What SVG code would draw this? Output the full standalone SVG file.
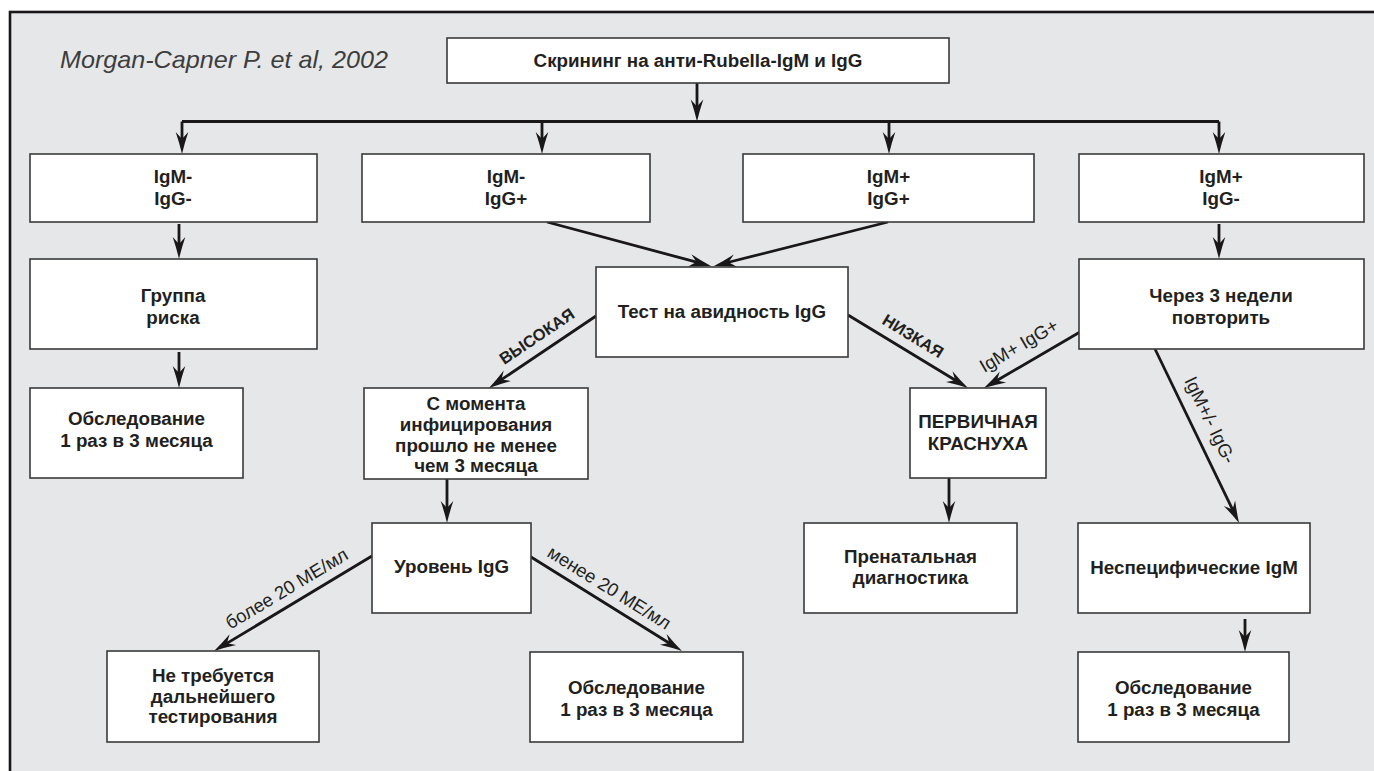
<svg xmlns="http://www.w3.org/2000/svg" width="1374" height="771" viewBox="0 0 1374 771">
<defs>
<marker id="ah" viewBox="-23 -7 23 14" refX="-10" refY="0" markerWidth="23" markerHeight="14" markerUnits="userSpaceOnUse" orient="auto">
<path d="M0,0 Q-11,-2.6 -22,-6.3 L-15,0 L-22,6.3 Q-11,2.6 0,0 Z" fill="#1a1718"/>
</marker>
<style>
.box{fill:#fff;stroke:#3a3a3a;stroke-width:1.6}
.t{font-family:"Liberation Sans",Arial,sans-serif;font-weight:bold;font-size:18.8px;fill:#231f20;text-anchor:middle}
.e{fill:none;stroke:#1a1718;stroke-width:2.8;marker-end:url(#ah)}
.ln{fill:none;stroke:#1a1718;stroke-width:2.8}
.lb{font-family:"Liberation Sans",Arial,sans-serif;font-size:18.5px;fill:#231f20;text-anchor:middle}
.lbb{font-family:"Liberation Sans",Arial,sans-serif;font-weight:bold;font-size:16.5px;fill:#231f20;text-anchor:middle}
</style>
</defs>
<rect x="0" y="0" width="1374" height="771" fill="#ffffff"/>
<rect x="10" y="12" width="1400" height="800" fill="#e6e7e8" stroke="#1a1718" stroke-width="2.6"/>
<text x="60" y="68" font-family="'Liberation Sans',Arial,sans-serif" font-style="italic" font-size="24" fill="#3d3d3d" textLength="328" lengthAdjust="spacingAndGlyphs">Morgan-Capner P. et al, 2002</text>

<g id="connectors">
<path class="e" d="M697,83 V111.5"/>
<path class="ln" d="M182,121.5 H1219"/>
<path class="e" d="M182,121.5 V144"/>
<path class="e" d="M542,121.5 V144"/>
<path class="e" d="M889,121.5 V144"/>
<path class="e" d="M1219,121.5 V144"/>
<path class="e" d="M179,224 V249"/>
<path class="e" d="M179,352 V378"/>
<path class="e" d="M1219,224 V249"/>
<path class="e" d="M447,479 V513"/>
<path class="e" d="M949,478 V513"/>
<path class="e" d="M1245,619 V642"/>
<path class="e" d="M547,222 L701.3,263.4"/>
<path class="e" d="M888,222 L723.7,263.5"/>
<path class="e" d="M596,316 L497.3,382.4"/>
<path class="e" d="M848,315 L959.5,382.8"/>
<path class="e" d="M1080,332 L992.6,383"/>
<path class="e" d="M1155,349 L1234.7,514"/>
<path class="e" d="M372,556 L222.6,645.9"/>
<path class="e" d="M531,557 L673.5,645.7"/>
<text class="lbb" x="540" y="341" transform="rotate(-33.9 540 341)">ВЫСОКАЯ</text>
<text class="lbb" x="910" y="341" transform="rotate(31.3 910 341)">НИЗКАЯ</text>
<text class="lb" x="1022" y="351" transform="rotate(-30.3 1022 351)">IgM+ IgG+</text>
<text class="lb" x="1204.5" y="422.8" transform="rotate(64.2 1204.5 422.8)">IgM+/- IgG-</text>
<text class="lb" x="290" y="594" transform="rotate(-31 290 594)">более 20 МЕ/мл</text>
<text class="lb" x="606" y="593" transform="rotate(31.9 606 593)">менее 20 МЕ/мл</text>
</g>

<g id="n-screening">
<rect class="box" x="447" y="38" width="502" height="45"/>
<text class="t" x="698" y="67">Скрининг на анти-Rubella-IgM и IgG</text>
</g>
<g id="n-igm-neg-igg-neg">
<rect class="box" x="30" y="154" width="287" height="68"/>
<text class="t" x="173" y="183">IgM-</text>
<text class="t" x="173" y="204.5">IgG-</text>
</g>
<g id="n-igm-neg-igg-pos">
<rect class="box" x="362" y="154" width="288" height="68"/>
<text class="t" x="506" y="183">IgM-</text>
<text class="t" x="506" y="204.5">IgG+</text>
</g>
<g id="n-igm-pos-igg-pos">
<rect class="box" x="743" y="154" width="291" height="68"/>
<text class="t" x="888.5" y="183">IgM+</text>
<text class="t" x="888.5" y="204.5">IgG+</text>
</g>
<g id="n-igm-pos-igg-neg">
<rect class="box" x="1079" y="154" width="285" height="68"/>
<text class="t" x="1221" y="183">IgM+</text>
<text class="t" x="1221" y="204.5">IgG-</text>
</g>
<g id="n-risk">
<rect class="box" x="30" y="259" width="287" height="90"/>
<text class="t" x="173" y="302">Группа</text>
<text class="t" x="173" y="323.5">риска</text>
</g>
<g id="n-avidity">
<rect class="box" x="596" y="267" width="252" height="90"/>
<text class="t" x="722" y="317.5">Тест на авидность IgG</text>
</g>
<g id="n-repeat">
<rect class="box" x="1079" y="259" width="285" height="90"/>
<text class="t" x="1221" y="302">Через 3 недели</text>
<text class="t" x="1221" y="323.5">повторить</text>
</g>
<g id="n-exam-1">
<rect class="box" x="30" y="388" width="213" height="90"/>
<text class="t" x="136.5" y="425">Обследование</text>
<text class="t" x="136.5" y="447">1 раз в 3 месяца</text>
</g>
<g id="n-since">
<rect class="box" x="364" y="388" width="224" height="91"/>
<text class="t" x="476" y="410">С момента</text>
<text class="t" x="476" y="431">инфицирования</text>
<text class="t" x="476" y="451.5">прошло не менее</text>
<text class="t" x="476" y="472">чем 3 месяца</text>
</g>
<g id="n-primary">
<rect class="box" x="910" y="388" width="136" height="90"/>
<text class="t" x="978" y="428">ПЕРВИЧНАЯ</text>
<text class="t" x="978" y="450">КРАСНУХА</text>
</g>
<g id="n-level">
<rect class="box" x="372" y="523" width="159" height="90"/>
<text class="t" x="451.5" y="573">Уровень IgG</text>
</g>
<g id="n-prenatal">
<rect class="box" x="804" y="523" width="213" height="90"/>
<text class="t" x="910.5" y="563">Пренатальная</text>
<text class="t" x="910.5" y="584">диагностика</text>
</g>
<g id="n-nonspecific">
<rect class="box" x="1078" y="523" width="232" height="90"/>
<text class="t" x="1194" y="574">Неспецифические IgM</text>
</g>
<g id="n-no-test">
<rect class="box" x="107" y="651" width="212" height="91"/>
<text class="t" x="213" y="682">Не требуется</text>
<text class="t" x="213" y="702.5">дальнейшего</text>
<text class="t" x="213" y="723">тестирования</text>
</g>
<g id="n-exam-2">
<rect class="box" x="530" y="652" width="213" height="90"/>
<text class="t" x="636.5" y="694">Обследование</text>
<text class="t" x="636.5" y="715.5">1 раз в 3 месяца</text>
</g>
<g id="n-exam-3">
<rect class="box" x="1078" y="652" width="211" height="90"/>
<text class="t" x="1183.5" y="694">Обследование</text>
<text class="t" x="1183.5" y="715.5">1 раз в 3 месяца</text>
</g>
</svg>
